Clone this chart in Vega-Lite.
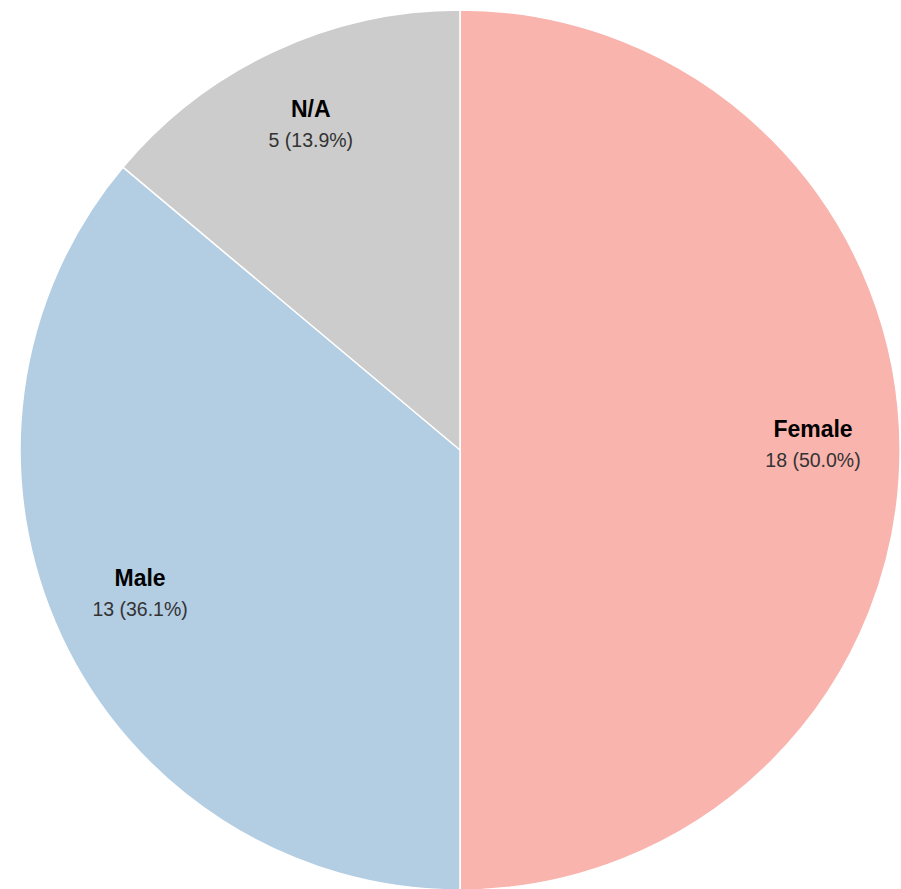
{
  "$schema": "https://vega.github.io/schema/vega-lite/v6.json",
  "width": 920,
  "height": 900,
  "padding": 0,
  "autosize": {"type": "none"},
  "background": "white",
  "data": {
    "values": [
      {"gender": "Female", "count": 18, "label": "18 (50.0%)", "ord": 1},
      {"gender": "Male", "count": 13, "label": "13 (36.1%)", "ord": 2},
      {"gender": "N/A", "count": 5, "label": "5 (13.9%)", "ord": 3}
    ]
  },
  "encoding": {
    "theta": {"field": "count", "type": "quantitative", "stack": true},
    "order": {"field": "ord", "type": "quantitative"}
  },
  "layer": [
    {
      "mark": {"type": "arc", "outerRadius": 440, "stroke": "white", "strokeWidth": 1.5},
      "encoding": {
        "color": {
          "field": "gender",
          "type": "nominal",
          "scale": {"domain": ["Female", "Male", "N/A"], "range": ["#fab4ae", "#b3cde3", "#cccccc"]},
          "legend": null
        }
      }
    },
    {
      "mark": {"type": "text", "radius": 353, "dy": -20, "font": "Liberation Sans", "fontSize": 23, "fontWeight": "bold", "fill": "#000000", "baseline": "middle", "align": "center"},
      "encoding": {"text": {"field": "gender"}}
    },
    {
      "mark": {"type": "text", "radius": 353, "dy": 11, "font": "Liberation Sans", "fontSize": 19.5, "fill": "#333333", "baseline": "middle", "align": "center"},
      "encoding": {"text": {"field": "label"}}
    }
  ],
  "config": {"view": {"stroke": null}}
}
